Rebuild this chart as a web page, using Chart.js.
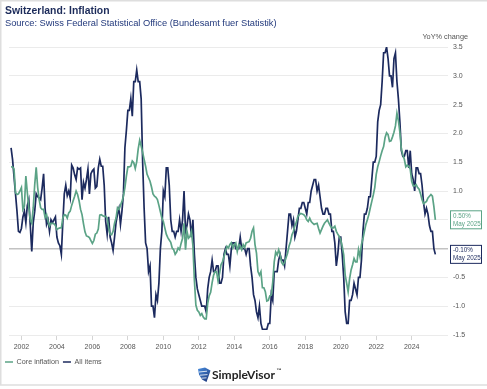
<!DOCTYPE html>
<html>
<head>
<meta charset="utf-8">
<title>Switzerland: Inflation</title>
<script src="https://cdn.jsdelivr.net/npm/chart.js@4.4.1/dist/chart.umd.min.js"></script>
<style>
  html, body { margin: 0; padding: 0; background: #fff; }
  #wrap { width: 487px; height: 389px; }
</style>
</head>
<body>
<div id="wrap"><canvas id="myChart" width="487" height="389"></canvas></div>
<script>
// monthly YoY % change, June 2001 .. May 2025
var startYear = 2001;
var startMonth = 6;

var allItems = [
  1.75, 1.55, 1.25, 0.95, 0.65, 0.30, 0.28,
  0.35, 0.55, 0.65, 0.45, 0.75, 0.85, 0.40, -0.05, 0.45, 0.65, 0.95, 0.90,
  0.88, 0.85, 1.05, 1.30, 0.70, 0.42, 0.50, 0.30, 0.50, 0.45, 0.50, 0.55,
  0.20, 0.10, 0.05, -0.10, 0.45, 0.95, 1.10, 0.92, 1.00, 0.88, 1.45, 1.40,
  1.28, 1.20, 1.40, 1.38, 1.40, 0.85, 1.15, 1.05, 1.20, 1.38, 0.95, 1.30,
  1.35, 1.38, 1.05, 1.08, 1.40, 1.55, 1.43, 1.43, 1.10, 0.47, 0.25, 0.55,
  0.20, 0.10, -0.03, 0.20, 0.45, 0.60, 0.70, 0.42, 0.65, 0.95, 1.75, 2.05,
  2.40, 2.40, 2.60, 2.30, 2.90, 2.90, 3.10, 2.90, 2.90, 2.60, 1.50, 0.70,
  0.10, 0.00, -0.40, -0.30, -1.00, -1.00, -1.20, -0.80, -0.90, -0.60, 0.00, 0.30,
  1.00, 0.90, 1.40, 1.40, 1.10, 0.50, 0.30, 0.30, 0.20, 0.30, 0.30, 0.50,
  0.30, 0.50, 1.00, 0.30, 0.40, 0.60, 0.50, 0.20, 0.50, -0.10, -0.50, -0.70,
  -0.80, -0.90, -1.00, -1.00, -1.00, -1.10, -0.70, -0.50, -0.40, -0.20, -0.40, -0.40,
  -0.30, -0.30, -0.60, -0.60, -0.50, -0.10, 0.00, -0.10, -0.10, -0.30, 0.00, 0.10,
  0.10, 0.00, 0.00, 0.00, 0.20, 0.00, 0.00, 0.00, -0.10, 0.00, 0.00, -0.30,
  -0.50, -0.80, -0.90, -1.10, -1.20, -1.00, -1.30, -1.40, -1.40, -1.40, -1.40, -1.30,
  -1.30, -0.80, -0.90, -0.40, -0.40, -0.40, -0.20, -0.10, -0.20, -0.20, -0.30, 0.00,
  0.30, 0.60, 0.60, 0.40, 0.50, 0.20, 0.30, 0.50, 0.70, 0.70, 0.80, 0.80,
  0.70, 0.60, 0.80, 0.80, 1.00, 1.10, 1.20, 1.20, 1.00, 1.10, 0.90, 0.70,
  0.60, 0.60, 0.70, 0.70, 0.60, 0.60, 0.30, 0.30, 0.10, -0.30, -0.10, 0.20,
  0.20, -0.10, -0.50, -1.10, -1.30, -1.30, -0.90, -0.90, -0.80, -0.60, -0.70, -0.80,
  -0.50, -0.50, -0.20, 0.30, 0.60, 0.60, 0.70, 0.90, 0.90, 1.20, 1.50, 1.50,
  1.60, 2.20, 2.40, 2.50, 2.90, 3.40, 3.40, 3.50, 3.30, 3.00, 3.00, 2.80,
  3.30, 3.40, 2.90, 2.60, 2.20, 1.70, 1.60, 1.60, 1.70, 1.70, 1.40, 1.70,
  1.30, 1.20, 1.00, 1.40, 1.40, 1.30, 1.30, 1.10, 0.80, 0.60, 0.70, 0.60,
  0.40, 0.30, 0.30, 0.00, -0.10
];

var coreInflation = [
  1.42, 1.42, 1.38, 0.97, 0.94, 0.95, 1.00,
  1.06, 0.68, 0.74, 1.26, 0.97, 0.71, 0.50, 0.44, 0.71, 1.11, 1.41, 1.06,
  0.85, 0.71, 0.68, 0.68, 0.54, 0.59, 0.47, 0.39, 0.44, 0.44, 0.43, 0.40,
  0.33, 0.35, 0.36, 0.36, 0.53, 0.59, 0.58, 0.53, 0.62, 0.65, 0.75, 0.83,
  0.91, 1.00, 0.94, 0.83, 0.68, 0.59, 0.43, 0.29, 0.22, 0.21, 0.19, 0.14,
  0.09, 0.14, 0.25, 0.27, 0.34, 0.58, 0.59, 0.57, 0.56, 0.56, 0.53, 0.36,
  0.25, 0.24, 0.30, 0.44, 0.53, 0.71, 0.68, 0.75, 0.82, 0.91, 1.06, 1.26,
  1.42, 1.42, 1.43, 1.52, 1.49, 1.39, 1.51, 1.73, 1.88, 1.78, 1.67, 1.55,
  1.43, 1.29, 1.23, 1.17, 1.07, 0.95, 0.91, 0.89, 0.85, 0.75, 0.64, 0.53,
  0.47, 0.36, 0.25, 0.19, 0.15, 0.11, 0.01, -0.02, -0.10, -0.06, 0.01, -0.02,
  0.09, 0.18, 0.44, -0.02, 0.30, 0.18, 0.21, 0.30, 0.05, -0.55, -0.98, -1.07,
  -1.10, -1.16, -1.13, -1.19, -1.22, -1.22, -0.95, -0.82, -0.76, -0.59, -0.46, -0.40,
  -0.40, -0.56, -0.43, -0.28, -0.23, -0.14, -0.05, 0.04, 0.01, 0.07, 0.10, 0.01,
  0.07, 0.10, -0.05, 0.07, 0.04, -0.02, 0.07, 0.02, 0.10, 0.11, 0.12, 0.18,
  0.30, 0.36, 0.07, -0.08, -0.40, -0.46, -0.40, -0.68, -0.68, -0.75, -0.91, -0.90,
  -0.82, -0.81, -0.58, -0.23, -0.06, -0.11, -0.02, -0.11, -0.24, -0.28, -0.24, -0.16,
  -0.08, 0.04, 0.12, 0.24, 0.30, 0.40, 0.46, 0.56, 0.59, 0.61, 0.60, 0.59,
  0.56, 0.50, 0.47, 0.53, 0.47, 0.44, 0.42, 0.43, 0.44, 0.35, 0.27, 0.33,
  0.39, 0.44, 0.47, 0.50, 0.44, 0.39, 0.36, 0.36, 0.39, 0.30, 0.25, 0.21,
  0.15, 0.04, -0.11, -0.46, -0.60, -0.75, -0.52, -0.37, -0.28, -0.17, -0.23, -0.23,
  -0.02, -0.14, 0.07, 0.17, 0.30, 0.42, 0.50, 0.59, 0.71, 0.82, 0.93, 1.06,
  1.29, 1.42, 1.51, 1.61, 1.70, 1.77, 1.93, 2.01, 1.98, 1.86, 1.87, 1.94,
  2.02, 2.13, 2.35, 2.22, 2.02, 1.73, 1.63, 1.55, 1.42, 1.45, 1.43, 1.38,
  1.17, 1.09, 1.09, 1.11, 1.06, 1.03, 0.95, 0.85, 0.78, 0.80, 0.82, 0.88,
  0.91, 0.94, 0.91, 0.73, 0.50
];

var tickYears = [2002, 2004, 2006, 2008, 2010, 2012, 2014, 2016, 2018, 2020, 2022, 2024];
var yTicks = [-1.5, -1.0, -0.5, 0.0, 0.5, 1.0, 1.5, 2.0, 2.5, 3.0, 3.5];
var monthNames = ['Jan', 'Feb', 'Mar', 'Apr', 'May', 'Jun', 'Jul', 'Aug', 'Sep', 'Oct', 'Nov', 'Dec'];

var titleText = 'Switzerland: Inflation';
var subtitleText = 'Source: Swiss Federal Statistical Office (Bundesamt fuer Statistik)';
var green = '#5ba386';
var navy = '#1c2a5e';
var fontFamily = '"Liberation Sans", Arial, sans-serif';

Chart.defaults.font.family = fontFamily;

// decimal year for each monthly value
function toPoints(values) {
  return values.map(function (v, i) {
    return { x: startYear + (startMonth - 1 + i) / 12, y: v };
  });
}

function lastMonthLabel(n) {
  var m = startMonth - 1 + n - 1;
  return monthNames[m % 12] + ' ' + (startYear + Math.floor(m / 12));
}

var frame = {
  id: 'frame',
  beforeDraw: function (chart) {
    var c = chart.ctx;
    c.save();
    c.fillStyle = '#fff';
    c.fillRect(0, 0, chart.width, chart.height);
    c.strokeStyle = '#dedede';
    c.lineWidth = 1.5;
    c.beginPath();
    c.moveTo(0, 0.75); c.lineTo(chart.width, 0.75);
    c.moveTo(0.75, 0); c.lineTo(0.75, 385);
    c.moveTo(0, 385); c.lineTo(chart.width, 385);
    c.stroke();

    c.textBaseline = 'middle';
    c.fillStyle = '#1c2b5a';
    c.font = 'bold 10.4px ' + fontFamily;
    c.fillText(titleText, 5, 11);
    c.fillStyle = '#22397c';
    c.font = '9.3px ' + fontFamily;
    c.fillText(subtitleText, 5, 23);

    c.fillStyle = '#555';
    c.font = '7.3px ' + fontFamily;
    c.textAlign = 'right';
    c.fillText('YoY% change', 468, 37);
    c.restore();
  }
};

var endLabels = {
  id: 'endLabels',
  afterDraw: function (chart) {
    var c = chart.ctx;
    var area = chart.chartArea;
    var yScale = chart.scales.y;
    c.save();
    c.font = '6.3px ' + fontFamily;
    c.textBaseline = 'middle';
    chart.data.datasets.forEach(function (ds) {
      var last = ds.data[ds.data.length - 1];
      var y = yScale.getPixelForValue(last.y);
      var x = area.right + 6;
      c.fillStyle = '#fff';
      c.fillRect(x, y - 9.5, 32, 19);
      c.strokeStyle = ds.borderColor;
      c.lineWidth = 1;
      c.strokeRect(x + 0.5, y - 9, 31, 18);
      c.fillStyle = ds.borderColor;
      c.fillText(last.y.toFixed(2) + '%', x + 3, y - 4);
      c.fillText(lastMonthLabel(ds.data.length), x + 3, y + 4);
    });
    c.restore();
  }
};

var logo = {
  id: 'logo',
  afterDraw: function (chart) {
    var c = chart.ctx;
    c.save();
    var g = c.createLinearGradient(198, 367, 210, 382);
    g.addColorStop(0, '#4a90e2');
    g.addColorStop(1, '#1b3476');
    c.fillStyle = g;
    c.beginPath();
    c.moveTo(198, 369);
    c.lineTo(205, 367.5);
    c.lineTo(210.5, 370.5);
    c.lineTo(209, 375);
    c.lineTo(206.5, 382);
    c.lineTo(202, 379.5);
    c.lineTo(199, 374.5);
    c.closePath();
    c.fill();
    c.strokeStyle = '#fff';
    c.lineWidth = 0.8;
    c.beginPath();
    c.moveTo(199, 372); c.lineTo(207, 371.2);
    c.moveTo(200, 375.2); c.lineTo(207.5, 374.6);
    c.moveTo(201.5, 378.2); c.lineTo(206.5, 377.8);
    c.stroke();

    c.fillStyle = '#222';
    c.textBaseline = 'middle';
    c.font = 'bold 12px Lato, ' + fontFamily;
    c.fillText('SimpleVisor', 212, 375);
    var w = c.measureText('SimpleVisor').width;
    c.font = 'bold 5px ' + fontFamily;
    c.fillText('\u2122', 212 + w + 1.5, 370.5);
    c.restore();
  }
};

var ctx = document.getElementById('myChart').getContext('2d');

var myChart = new Chart(ctx, {
  type: 'line',
  data: {
    datasets: [{
      label: 'Core inflation',
      data: toPoints(coreInflation),
      borderColor: green,
      backgroundColor: green,
      borderWidth: 1.7,
      pointRadius: 0,
      fill: false
    }, {
      label: 'All items',
      data: toPoints(allItems),
      borderColor: navy,
      backgroundColor: navy,
      borderWidth: 1.7,
      pointRadius: 0,
      fill: false
    }]
  },
  options: {
    responsive: false,
    animation: false,
    devicePixelRatio: 1,
    layout: {
      padding: { top: 47, right: 0, bottom: 13.4, left: 1 }
    },
    plugins: {
      title: { display: false },
      tooltip: { enabled: false },
      legend: {
        position: 'bottom',
        align: 'start',
        labels: {
          usePointStyle: true,
          pointStyle: 'line',
          pointStyleWidth: 8,
          padding: 4,
          color: '#555',
          font: { size: 7.2 }
        }
      }
    },
    scales: {
      x: {
        type: 'linear',
        min: 2001.3,
        max: 2025.82,
        afterBuildTicks: function (scale) {
          scale.ticks = tickYears.map(function (v) { return { value: v }; });
        },
        ticks: {
          autoSkip: false,
          maxRotation: 0,
          padding: 3,
          color: '#555',
          font: { size: 7 },
          callback: function (v) { return String(v); }
        },
        grid: { drawOnChartArea: false, tickLength: 5, color: '#d4d4d4' },
        border: { display: false }
      },
      y: {
        position: 'right',
        min: -1.5,
        max: 3.5,
        afterBuildTicks: function (scale) {
          scale.ticks = yTicks.map(function (v) { return { value: v }; });
        },
        afterFit: function (scale) { scale.width = 43; },
        ticks: {
          padding: 5,
          color: '#555',
          font: { size: 7 },
          callback: function (v) { return v.toFixed(1); }
        },
        grid: {
          tickLength: 4,
          color: function (c) { return c.tick && c.tick.value === 0 ? '#c2c2c2' : '#ebebeb'; },
          lineWidth: function (c) { return c.tick && c.tick.value === 0 ? 1.5 : 1; }
        },
        border: { display: false }
      },
      yLeft: {
        position: 'left',
        display: true,
        afterFit: function (scale) { scale.width = 8; },
        ticks: { display: false },
        grid: { display: false },
        border: { display: false }
      }
    }
  },
  plugins: [frame, endLabels, logo]
});
</script>
</body>
</html>
